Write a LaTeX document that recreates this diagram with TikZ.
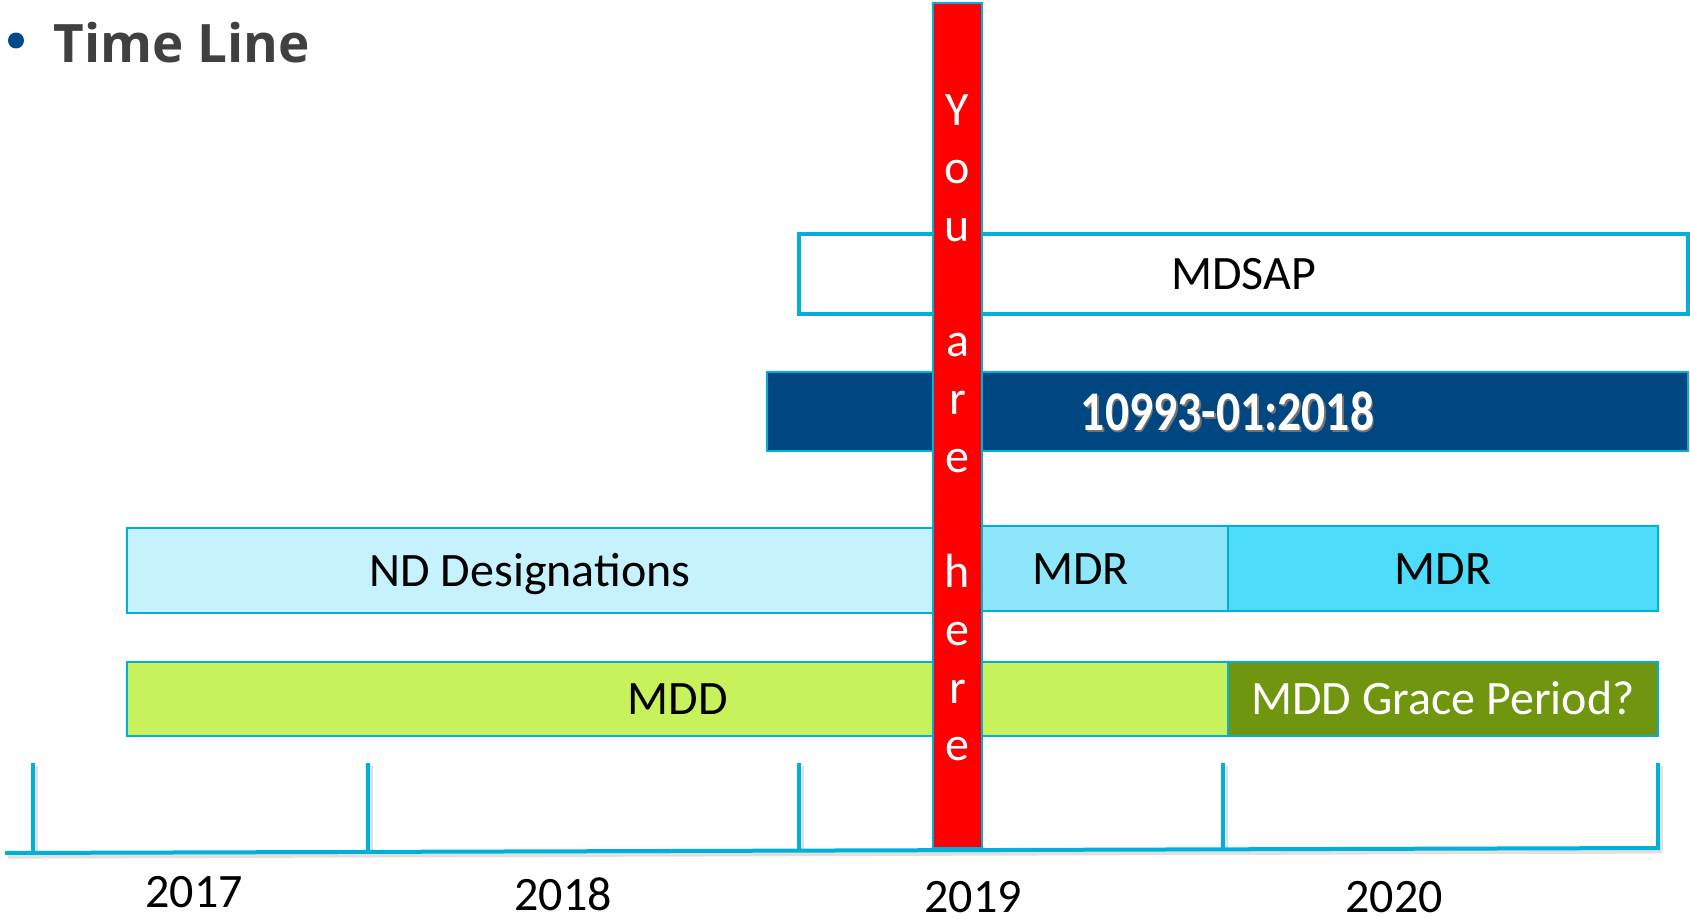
\documentclass[tikz,border=0pt]{standalone}
\usepackage{fontspec}
\setmainfont{Carlito}
\newfontfamily\titlefont{Open Sans}
\definecolor{barline}{RGB}{0,176,216}
\definecolor{ndfill}{RGB}{198,242,253}
\definecolor{mdrone}{RGB}{142,230,251}
\definecolor{mdrtwo}{RGB}{77,220,250}
\definecolor{mddfill}{RGB}{200,242,92}
\definecolor{gracefill}{RGB}{111,150,14}
\definecolor{isofill}{RGB}{0,70,128}
\definecolor{herered}{RGB}{255,0,0}
\definecolor{titlegray}{RGB}{64,64,64}
\definecolor{bulletblue}{RGB}{0,74,140}
\begin{document}
\begin{tikzpicture}[x=0.5pt,y=-0.5pt,
  bar/.style={draw=barline, line width=1pt, inner sep=0pt,
    font=\fontsize{24}{28}\selectfont, text height=15.5pt, text depth=0pt,
    minimum height=42.5pt},
  axisline/.style={draw=barline, line width=2pt},
  axisshadow/.style={draw=black!12, line width=2.6pt},
  yearlabel/.style={font=\fontsize{24}{28}\selectfont, anchor=base, inner sep=0pt},
  hereletter/.style={font=\fontsize{24}{28}\selectfont, text=white, anchor=base, inner sep=0pt}]
\useasboundingbox (0,0) rectangle (1690,919);

% title
\node[circle, fill=bulletblue, minimum size=8pt, inner sep=0pt] (bullet) at (16,40.5) {};
\node[anchor=base west, inner sep=0pt, text=titlegray,
  font=\titlefont\bfseries\fontsize{26.5}{31}\selectfont] (title) at (53,63) {Time Line};

% bars
\node[bar, line width=2pt, fill=white, minimum width=444.5pt, minimum height=40pt] (mdsap) at (1243.5,274) {MDSAP};
\node[bar, fill=isofill, text=white, minimum width=460.5pt, minimum height=39.5pt] (iso) at (1227.5,411.5)
  {\raisebox{-1.5pt}{\bfseries\scalebox{0.85}[1]{\fontsize{28}{32}\selectfont\rlap{\kern1pt\raisebox{-1.2pt}{\color{black!55}10993-01:2018}}10993-01:2018}}};
\node[bar, fill=ndfill, minimum width=403pt] (nd) at (530,570.5) {ND Designations};
\node[bar, fill=mdrone, minimum width=147.5pt] (mdra) at (1080.5,568.5) {MDR};
\node[bar, fill=mdrtwo, minimum width=215pt] (mdrb) at (1443,568.5) {MDR};
\node[bar, fill=mddfill, minimum width=550.5pt, minimum height=37pt] (mdd) at (677.5,699) {MDD};
\node[bar, fill=gracefill, text=white, minimum width=215pt, minimum height=37pt] (grace) at (1443,699) {MDD Grace Period?};

% you are here bar
\node[draw=barline, line width=0.8pt, fill=herered, inner sep=0pt, minimum width=24.5pt, minimum height=422.5pt] (here) at (957.5,425.5) {};
\foreach \ch [count=\i from 0] in {Y,o,u,{},a,r,e,{},h,e,r,e} {
  \node[hereletter] (hl\i) at (957.5,126+57.7*\i) {\ch};
}

% axis shadow
\draw[axisshadow] (8,856) -- (1662,851);
\foreach \x/\y in {33/852.9,368/851.9,799/850.6,1223/849.3,1658/848} {
  \draw[axisshadow] (\x+2.5,766) -- (\x+2.5,\y+3);
}
% axis
\draw[axisline] (5,853) -- (1660,848);
\foreach \x/\y in {33/852.9,368/851.9,799/850.6,1223/849.3,1658/848} {
  \draw[axisline] (\x,763) -- (\x,\y);
}

% years
\node[yearlabel] (y2017) at (194,907) {2017};
\node[yearlabel] (y2018) at (563,910) {2018};
\node[yearlabel] (y2019) at (973,912) {2019};
\node[yearlabel] (y2020) at (1394,912) {2020};
\end{tikzpicture}
\end{document}
